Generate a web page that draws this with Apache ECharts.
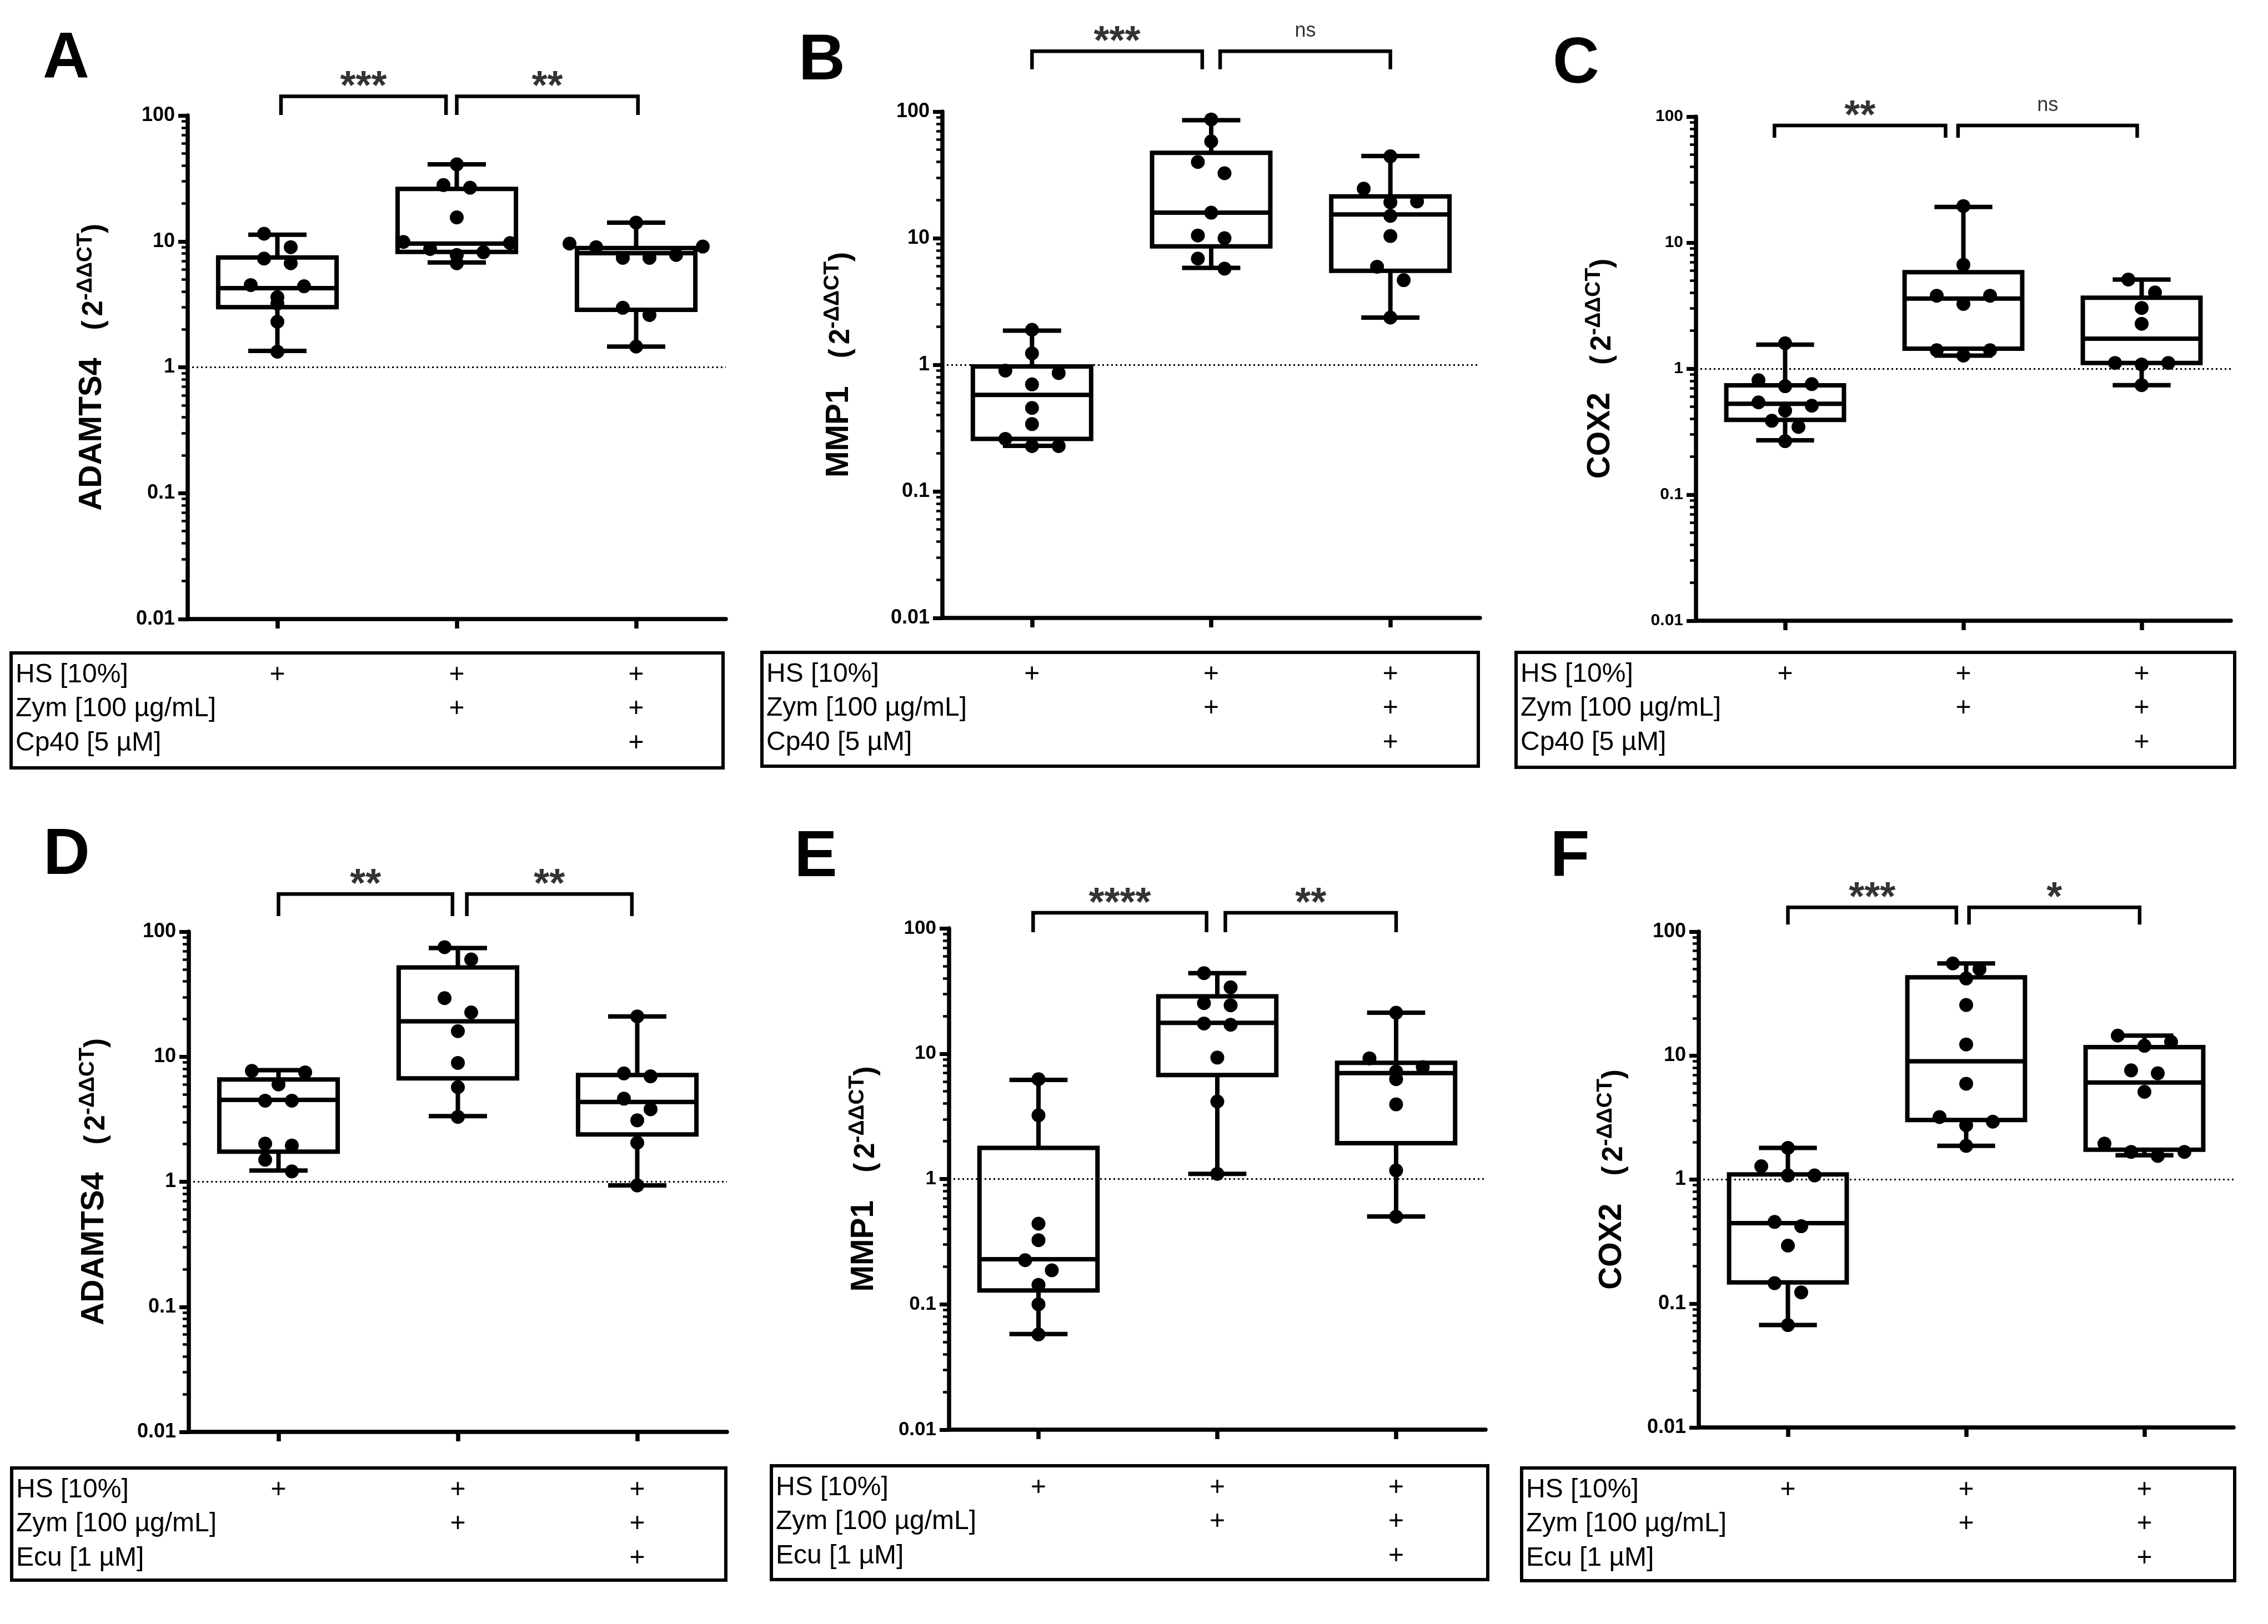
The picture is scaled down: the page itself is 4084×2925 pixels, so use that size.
<!DOCTYPE html>
<html><head><meta charset="utf-8">
<script src="https://cdn.jsdelivr.net/npm/echarts@6/dist/echarts.min.js"></script>
<style>html,body{margin:0;padding:0;background:#fff}#c{width:4084px;height:2925px}</style>
</head><body><div id="c"></div>
<script>
// ---------------- DATA ----------------
const groups = ['HS', 'HS + Zym', 'HS + Zym + inhibitor'];
const panelLetters = ['A', 'B', 'C', 'D', 'E', 'F'];
const genes = ['ADAMTS4', 'MMP1', 'COX2', 'ADAMTS4', 'MMP1', 'COX2'];
const yTickLabels = ['0.01', '0.1', '1', '10', '100'];
const minorTickValues = [0.02,0.03,0.04,0.05,0.06,0.07,0.08,0.09,0.2,0.3,0.4,0.5,0.6,0.7,0.8,0.9,2,3,4,5,6,7,8,9,20,30,40,50,60,70,80,90];

// Panel A: ADAMTS4, Cp40
const ptsA1 = [11.5, 9.0, 7.3, 6.7, 4.5, 4.4, 3.6, 3.2, 2.3, 1.33];
const ptsA2 = [40.9, 28, 26.7, 15.5, 9.9, 9.7, 8.7, 8.2, 7.8, 6.7];
const ptsA3 = [14.1, 9.6, 9.1, 9.0, 7.8, 7.4, 7.4, 2.97, 2.6, 1.46];
const boxA = [[1.35, 3.0, 4.25, 7.45, 11.3], [6.8, 8.25, 9.6, 26.1, 40.9], [1.46, 2.86, 8.05, 8.85, 14.1]];
const sigA = ['***', '**'];
// Panel B: MMP1, Cp40
const ptsB1 = [1.89, 1.23, 0.90, 0.86, 0.70, 0.456, 0.34, 0.26, 0.228, 0.228];
const ptsB2 = [86.7, 58.1, 40, 32.6, 15.9, 10.5, 10.0, 6.9, 5.75];
const ptsB3 = [44.3, 24.6, 19.5, 19.2, 15.0, 10.4, 5.95, 4.66, 2.36];
const boxB = [[0.229, 0.26, 0.578, 0.97, 1.86], [5.82, 8.62, 15.9, 47.3, 85.6], [2.36, 5.53, 15.4, 21.4, 44.6]];
const sigB = ['***', 'ns'];
// Panel C: COX2, Cp40
const ptsC1 = [1.59, 0.81, 0.754, 0.726, 0.54, 0.508, 0.465, 0.386, 0.345, 0.266];
const ptsC2 = [19.5, 6.67, 3.79, 3.79, 3.26, 1.4, 1.4, 1.27];
const ptsC3 = [5.1, 4.02, 3.03, 2.27, 1.11, 1.11, 1.08, 0.74];
const boxC = [[0.27, 0.392, 0.527, 0.737, 1.55], [1.27, 1.44, 3.6, 5.83, 19.2], [0.74, 1.11, 1.73, 3.65, 5.1]];
const sigC = ['**', 'ns'];
// Panel D: ADAMTS4, Ecu
const ptsD1 = [7.7, 7.5, 6.0, 4.45, 4.45, 2.02, 1.95, 1.5, 1.21];
const ptsD2 = [75.2, 60, 29.4, 22.6, 16.0, 8.92, 5.7, 3.3];
const ptsD3 = [21, 7.35, 6.97, 4.62, 3.8, 3.1, 2.05, 0.935];
const boxD = [[1.23, 1.74, 4.52, 6.57, 7.81], [3.35, 6.72, 19.2, 51.7, 74], [0.935, 2.39, 4.35, 7.13, 21]];
const sigD = ['**', '**'];
// Panel E: MMP1, Ecu
const ptsE1 = [6.26, 3.22, 0.44, 0.325, 0.225, 0.187, 0.143, 0.1, 0.0575];
const ptsE2 = [43.9, 33.8, 25.3, 24.3, 17.4, 17.0, 9.3, 4.15, 1.1];
const ptsE3 = [21.2, 9.18, 7.8, 7.2, 6.26, 3.94, 1.17, 0.5];
const boxE = [[0.058, 0.129, 0.229, 1.77, 6.17], [1.1, 6.75, 17.6, 28.7, 43.9], [0.502, 1.93, 7.0, 8.45, 21.2]];
const sigE = ['****', '**'];
// Panel F: COX2, Ecu
const ptsF1 = [1.8, 1.28, 1.08, 1.08, 0.455, 0.42, 0.293, 0.146, 0.123, 0.067];
const ptsF2 = [55.4, 49.9, 41.9, 25.6, 12.3, 5.93, 3.19, 2.93, 2.74, 1.87];
const ptsF3 = [14.5, 12.9, 12, 7.6, 7.2, 5.1, 1.95, 1.67, 1.67, 1.55];
const boxF = [[0.067, 0.148, 0.445, 1.1, 1.8], [1.87, 3.02, 9.0, 42.8, 55.4], [1.57, 1.74, 6.07, 11.7, 14.5]];
const sigF = ['***', '*'];

// Treatment table
const rowsCp40 = ['HS [10%]', 'Zym [100 µg/mL]', 'Cp40 [5 µM]'];
const rowsEcu = ['HS [10%]', 'Zym [100 µg/mL]', 'Ecu [1 µM]'];
const plusMatrix = [[1, 1, 1], [0, 1, 1], [0, 0, 1]];

// ---------------- LAYOUT ----------------
const FONT = 'Liberation Sans, Arial, Helvetica, sans-serif';
const layout = [
  {grid:{left:338, top:208, width:969, height:907}, letter:[119,108], tickFont:36, nameGap:143,
   table:{x:20, y:1176, w:1282, h:207}, brackets:[{x1:0.02, x2:0.94, y:142, tick:101}, {x1:1.0, x2:2.01, y:142, tick:101}]},
  {grid:{left:1697, top:201, width:968, height:912}, letter:[1480,111], tickFont:36, nameGap:157,
   table:{x:1372, y:1175, w:1290, h:205}, brackets:[{x1:0, x2:0.95, y:300, tick:216}, {x1:1.05, x2:2.0, y:300, tick:216}]},
  {grid:{left:3054, top:210, width:963, height:908}, letter:[2838,117], tickFont:30, nameGap:143,
   table:{x:2730, y:1175, w:1294, h:207}, brackets:[{x1:-0.06, x2:0.9, y:85, tick:68}, {x1:0.97, x2:1.975, y:85, tick:68}]},
  {grid:{left:340, top:1678, width:969, height:901}, letter:[120,1542], tickFont:36, nameGap:141,
   table:{x:21, y:2644, w:1286, h:202}, brackets:[{x1:0, x2:0.97, y:200, tick:133}, {x1:1.05, x2:1.97, y:200, tick:133}]},
  {grid:{left:1709, top:1672, width:966, height:903}, letter:[1469,1546], tickFont:35, nameGap:124,
   table:{x:1389, y:2640, w:1290, h:205}, brackets:[{x1:-0.03, x2:0.94, y:133, tick:93}, {x1:1.045, x2:2.0, y:133, tick:93}]},
  {grid:{left:3059, top:1678, width:963, height:893}, letter:[2827,1546], tickFont:36, nameGap:127,
   table:{x:2740, y:2644, w:1284, h:203}, brackets:[{x1:0, x2:0.945, y:157, tick:114}, {x1:1.016, x2:1.973, y:157, tick:114}]}
];

const panelData = [
  {pts:[ptsA1, ptsA2, ptsA3], box:boxA, sig:sigA, rows:rowsCp40},
  {pts:[ptsB1, ptsB2, ptsB3], box:boxB, sig:sigB, rows:rowsCp40},
  {pts:[ptsC1, ptsC2, ptsC3], box:boxC, sig:sigC, rows:rowsCp40},
  {pts:[ptsD1, ptsD2, ptsD3], box:boxD, sig:sigD, rows:rowsEcu},
  {pts:[ptsE1, ptsE2, ptsE3], box:boxE, sig:sigE, rows:rowsEcu},
  {pts:[ptsF1, ptsF2, ptsF3], box:boxF, sig:sigF, rows:rowsEcu}
];

const LW = 8, AXW = 7.5, DOT = 25, SWARM_TH = 26, SWARM_STEP = 48;

// simple beeswarm: spread values that would overlap vertically
function swarm(values, gIdx, pxPerDecade, band) {
  const s = values.map(v => ({v, y: Math.log10(v) * pxPerDecade})).sort((a, b) => b.v - a.v);
  const out = [];
  let i = 0;
  while (i < s.length) {
    let j = i;
    while (j + 1 < s.length && s[i].y - s[j + 1].y < SWARM_TH) j++;
    const n = j - i + 1;
    const slots = [];
    for (let k = 0; k < n; k++) slots.push(k - (n - 1) / 2);
    slots.sort((a, b) => (Math.abs(b) - Math.abs(a)) || (a - b));
    for (let k = 0; k < n; k++) out.push([gIdx + slots[k] * SWARM_STEP / band, s[i + k].v]);
    i = j + 1;
  }
  return out;
}

function renderBox(params, api) {
  const i = api.value(0);
  const mn = api.coord([i, api.value(1)]);
  const q1 = api.coord([i, api.value(2)]);
  const md = api.coord([i, api.value(3)]);
  const q3 = api.coord([i, api.value(4)]);
  const mx = api.coord([i, api.value(5)]);
  const band = api.size([1, 0])[0];
  const bw = band * 0.66, cw = band * 0.325;
  const x = mn[0];
  const st = {stroke: '#000', lineWidth: LW, fill: null};
  return {type: 'group', children: [
    {type: 'line', shape: {x1: x, y1: q3[1], x2: x, y2: mx[1]}, style: st},
    {type: 'line', shape: {x1: x, y1: q1[1], x2: x, y2: mn[1]}, style: st},
    {type: 'line', shape: {x1: x - cw / 2, y1: mx[1], x2: x + cw / 2, y2: mx[1]}, style: st},
    {type: 'line', shape: {x1: x - cw / 2, y1: mn[1], x2: x + cw / 2, y2: mn[1]}, style: st},
    {type: 'rect', shape: {x: x - bw / 2, y: q3[1], width: bw, height: q1[1] - q3[1]}, style: {stroke: '#000', lineWidth: LW, fill: 'none'}},
    {type: 'line', shape: {x1: x - bw / 2, y1: md[1], x2: x + bw / 2, y2: md[1]}, style: st}
  ]};
}

const grid = [], xAxis = [], yAxis = [], series = [], graphic = [];

layout.forEach((L, k) => {
  const P = panelData[k];
  grid.push(Object.assign({containLabel: false}, L.grid));
  const band = L.grid.width / 3;
  const pxPerDecade = L.grid.height / 4;

  xAxis.push({type: 'category', gridIndex: k, data: groups, boundaryGap: true, position: 'bottom',
    axisLine: {show: true, onZero: false, lineStyle: {color: '#000', width: AXW}},
    axisTick: {show: true, alignWithLabel: true, length: 17, lineStyle: {color: '#000', width: 7.5}},
    axisLabel: {show: false}, splitLine: {show: false}});
  xAxis.push({type: 'value', gridIndex: k, min: -0.5, max: 2.5, show: false, position: 'top',
    axisLine: {onZero: false}});

  yAxis.push({type: 'log', logBase: 10, gridIndex: k, min: 0.01, max: 100, position: 'left',
    axisLine: {show: true, onZero: false, lineStyle: {color: '#000', width: AXW}},
    axisTick: {show: true, length: 17, lineStyle: {color: '#000', width: 7}},
    axisLabel: {show: true, margin: 23, color: '#000', fontFamily: FONT, fontWeight: 'bold', fontSize: L.tickFont,
      formatter: v => yTickLabels[Math.round(Math.log10(v)) + 2]},
    splitLine: {show: false}, minorTick: {show: false},
    name: '{t|' + genes[k] + '}{sp| }{p|(}{p2|2}{s|-ΔΔCT}{p|)}',
    nameLocation: 'middle', nameRotate: 90, nameGap: L.nameGap,
    nameTextStyle: {color: '#000', fontFamily: FONT, rich: {
      t: {fontSize: 57, fontWeight: 'bold', fontFamily: FONT, color: '#000', verticalAlign: 'bottom', lineHeight: 60},
      sp: {width: 50, fontSize: 20, lineHeight: 60, verticalAlign: 'bottom'},
      p: {fontSize: 51, fontWeight: 'bold', fontFamily: FONT, color: '#000', verticalAlign: 'bottom', lineHeight: 60},
      p2: {fontSize: 51, fontWeight: 'bold', fontFamily: FONT, color: '#000', verticalAlign: 'bottom', lineHeight: 60, padding: [0, 0, 0, 8]},
      s: {fontSize: 39, fontWeight: 'bold', fontFamily: FONT, color: '#000', verticalAlign: 'top', lineHeight: 20}
    }}});
  yAxis.push({type: 'value', gridIndex: k, min: -2, max: 2, position: 'left',
    axisLine: {show: false, onZero: false}, axisLabel: {show: false}, splitLine: {show: false},
    axisTick: {show: true, length: 11, lineStyle: {color: '#000', width: 4.5},
      customValues: minorTickValues.map(v => Math.log10(v))}});

  const xc = 2 * k, xv = 2 * k + 1, yl = 2 * k;
  series.push({type: 'custom', xAxisIndex: xc, yAxisIndex: yl, renderItem: renderBox,
    data: P.box.map((b, i) => [i].concat(b)), encode: {x: 0, y: [1, 2, 3, 4, 5]}, z: 2, silent: true});

  let pts = [];
  P.pts.forEach((g, i) => { pts = pts.concat(swarm(g, i, pxPerDecade, band)); });
  series.push({type: 'scatter', xAxisIndex: xv, yAxisIndex: yl, data: pts, symbol: 'circle', symbolSize: DOT,
    itemStyle: {color: '#000', opacity: 1}, z: 5, silent: true,
    markLine: {silent: true, symbol: 'none', label: {show: false}, animation: false,
      lineStyle: {type: [3, 5], width: 3, color: '#000'}, data: [{yAxis: 1}]}});

  L.brackets.forEach((b) => {
    series.push({type: 'line', xAxisIndex: xv, yAxisIndex: yl, clip: false, symbol: 'none', silent: true,
      lineStyle: {color: '#000', width: 6.5, join: 'miter', cap: 'butt'},
      data: [[b.x1, b.tick], [b.x1, b.y], [b.x2, b.y], [b.x2, b.tick]]});
  });
  series.push({type: 'scatter', xAxisIndex: xv, yAxisIndex: yl, clip: false, symbolSize: 1, silent: true,
    itemStyle: {color: 'rgba(0,0,0,0)'},
    data: L.brackets.map((b, bi) => {
      const lab = P.sig[bi];
      const ns = lab === 'ns';
      return {value: [(b.x1 + b.x2) / 2, b.y], label: {show: true, position: 'inside', formatter: lab,
        offset: [0, ns ? -36 : -15], color: '#000', fontFamily: FONT,
        fontWeight: ns ? 'normal' : 'bold', fontSize: ns ? 36 : 72}};
    })});

  // panel letter
  graphic.push({type: 'text', x: L.letter[0], y: L.letter[1], silent: true,
    style: {text: panelLetters[k], fontSize: 116, fontWeight: 'bold', fontFamily: FONT, fill: '#000',
      textAlign: 'center', textVerticalAlign: 'middle'}});
  // table
  const T = L.table;
  graphic.push({type: 'rect', shape: {x: T.x, y: T.y, width: T.w, height: T.h}, silent: true,
    style: {fill: 'none', stroke: '#000', lineWidth: 6}});
  const rowY = [40, 101, 163];
  P.rows.forEach((r, ri) => {
    graphic.push({type: 'text', x: T.x + 8, y: T.y + rowY[ri], silent: true,
      style: {text: r, fontSize: 48, fontFamily: FONT, fill: '#000', textAlign: 'left', textVerticalAlign: 'middle'}});
    plusMatrix[ri].forEach((on, ci) => {
      if (!on) return;
      graphic.push({type: 'text', x: L.grid.left + (ci + 0.5) * band, y: T.y + rowY[ri], silent: true,
        style: {text: '+', fontSize: 48, fontFamily: FONT, fill: '#000', textAlign: 'center', textVerticalAlign: 'middle'}});
    });
  });
});

const chart = echarts.init(document.getElementById('c'), null, {renderer: 'canvas', width: 4084, height: 2925});
chart.setOption({backgroundColor: '#fff', animation: false, grid, xAxis, yAxis, series, graphic});
</script></body></html>
